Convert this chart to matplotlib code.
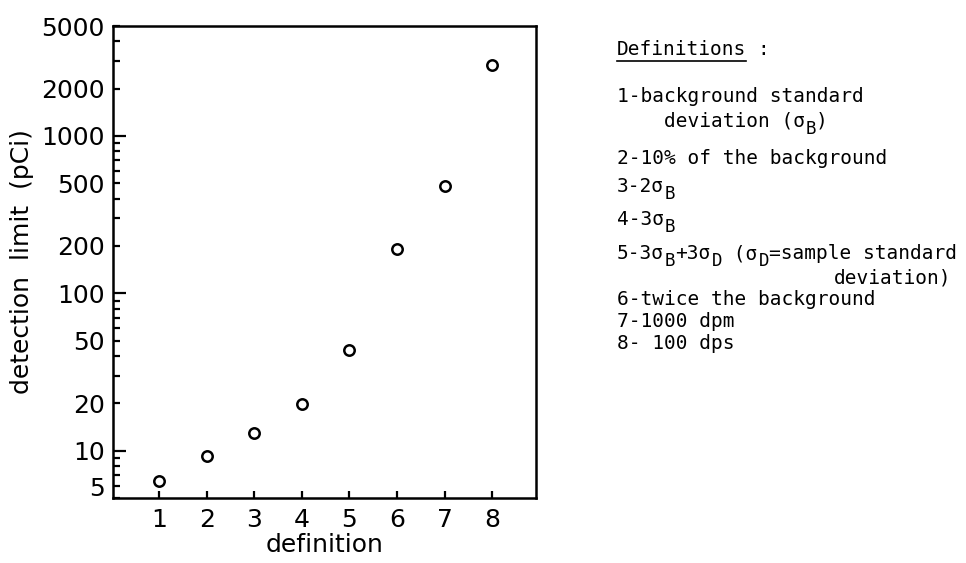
import numpy as np
import matplotlib
import matplotlib.pyplot as plt
from matplotlib.ticker import FixedLocator, FuncFormatter
from matplotlib.transforms import ScaledTranslation
from matplotlib.lines import Line2D

plt.rcParams['font.family'] = ['DejaVu Sans']

definition = [1, 2, 3, 4, 5, 6, 7, 8]
detection_limit = [6.4, 9.2, 13.0, 19.7, 43.5, 192, 480, 2830]

y_labeled = [5, 10, 20, 50, 100, 200, 500, 1000, 2000, 5000]

# "_X" marks a subscript letter X
def_lines = [
    "1-background standard",
    "deviation (σ_B)",
    "2-10% of the background",
    "3-2σ_B",
    "4-3σ_B",
    "5-3σ_B+3σ_D (σ_D=sample standard",
    "deviation)",
    "6-twice the background",
    "7-1000 dpm",
    "8- 100 dps",
]
# indent in characters and baseline (px from top) for each line
def_indent = [0, 4, 0, 0, 0, 0, 18.5, 0, 0, 0]
def_base = [102, 127, 164, 192, 225, 259, 284, 305, 327, 349]

W, H = 966, 563
fig = plt.figure(figsize=(W / 100, H / 100), dpi=100)
ax = fig.add_axes([113 / W, 1 - 498 / H, (536 - 113) / W, (498 - 26) / H])

ax.plot(definition, detection_limit, 'o', mfc='white', mec='black',
        markersize=7.5, mew=1.8, ls='none')

ax.set_yscale('log')
ax.set_ylim(5, 5000)
ax.set_xlim(0.03, 8.92)

# long ticks on decades, short ticks on 2..9
ax.yaxis.set_major_locator(FixedLocator([10, 100, 1000]))
minor = [m * 10 ** e for e in range(0, 4) for m in range(2, 10)]
minor = [v for v in minor if 5 <= v <= 5000]
ax.yaxis.set_minor_locator(FixedLocator(minor))

def lab(v, pos):
    if round(v) in y_labeled:
        return "%d" % round(v)
    return ""

ax.yaxis.set_major_formatter(FuncFormatter(lab))
ax.yaxis.set_minor_formatter(FuncFormatter(lab))

ax.set_xticks(definition)
ax.tick_params(axis='both', which='both', direction='in', width=1.6,
               labelsize=18, color='black')
ax.tick_params(axis='y', which='major', length=9, pad=6)
ax.tick_params(axis='y', which='minor', length=5, pad=6)
ax.tick_params(axis='x', which='major', length=5, pad=7)

for s in ax.spines.values():
    s.set_linewidth(1.8)

ax.set_xlabel("definition", fontsize=18, labelpad=1)
ax.set_ylabel("detection  limit  (pCi)", fontsize=18, labelpad=5)

# nudge the bottom "5" up off the corner
fig.canvas.draw()
for t in ax.yaxis.get_minor_ticks():
    if t.label1.get_text() == "5":
        t.label1.set_transform(t.label1.get_transform() +
                               ScaledTranslation(0, 0.11, fig.dpi_scale_trans))

# definitions list, monospaced so columns give x positions
x0 = 617
cw = 0.602 * 14 * 100 / 72
mono = 'DejaVu Sans Mono'

head = fig.text(x0 / W, 1 - 55 / H, "Definitions", family=mono,
                fontsize=14, va='baseline')
fig.text((x0 + 12 * cw) / W, 1 - 55 / H, ":", family=mono,
         fontsize=14, va='baseline')
fig.canvas.draw()
bb = head.get_window_extent()
fig.add_artist(Line2D([bb.x0 / W, bb.x1 / W], [(H - 61) / H, (H - 61) / H],
                      color='black', lw=1.2))

def put_line(s, col0, yb):
    col = col0
    run, run_col = "", col0
    i = 0
    while i < len(s):
        c = s[i]
        if c == '_':
            if run:
                fig.text((x0 + run_col * cw) / W, 1 - yb / H, run,
                         family=mono, fontsize=14, va='baseline')
            fig.text((x0 + col * cw + 1) / W, 1 - (yb + 7) / H, s[i + 1],
                     family=mono, fontsize=12.5, va='baseline')
            col += 1
            run, run_col = "", col
            i += 2
            continue
        run += c
        col += 1
        i += 1
    if run:
        fig.text((x0 + run_col * cw) / W, 1 - yb / H, run,
                 family=mono, fontsize=14, va='baseline')

for txt, ind, yb in zip(def_lines, def_indent, def_base):
    put_line(txt, ind, yb)

fig.savefig('out.png', dpi=100)
